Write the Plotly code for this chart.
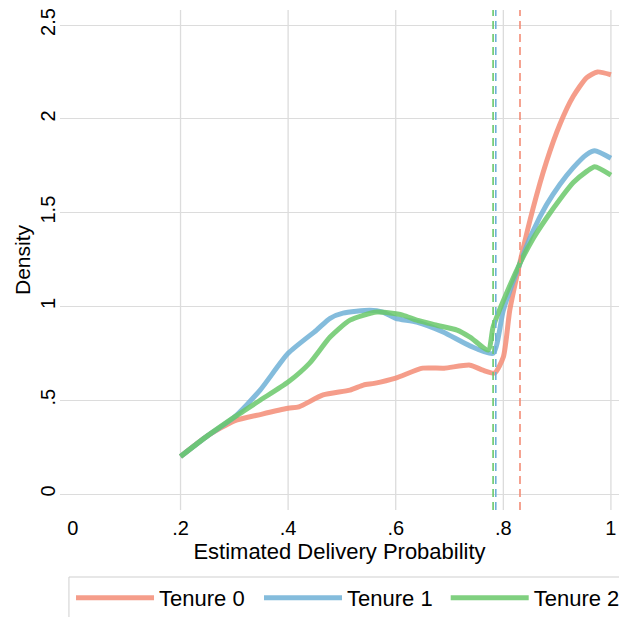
import plotly.graph_objects as go

# ---- data ----
x0 = [0.20, 0.25, 0.30, 0.35, 0.40, 0.42, 0.465, 0.515, 0.54, 0.56, 0.60, 0.65, 0.69, 0.738, 0.762, 0.784,
      0.80, 0.812, 0.825, 0.855, 0.88, 0.905, 0.93, 0.955, 0.975, 1.0]
y0 = [0.20, 0.31, 0.39, 0.425, 0.457, 0.465, 0.528, 0.554, 0.581, 0.59, 0.618, 0.671, 0.671, 0.687, 0.66, 0.645,
      0.73, 0.98, 1.16, 1.52, 1.77, 1.97, 2.12, 2.22, 2.25, 2.235]

x1 = [0.20, 0.25, 0.30, 0.348, 0.40, 0.453, 0.478, 0.502, 0.552, 0.576, 0.60, 0.639, 0.688, 0.738, 0.781,
      0.80, 0.831, 0.855, 0.88, 0.905, 0.93, 0.955, 0.97, 1.0]
y1 = [0.20, 0.31, 0.41, 0.554, 0.75, 0.874, 0.937, 0.964, 0.98, 0.97, 0.937, 0.917, 0.864, 0.79, 0.75,
      0.98, 1.23, 1.40, 1.54, 1.65, 1.74, 1.81, 1.83, 1.79]

x2 = [0.20, 0.25, 0.30, 0.348, 0.40, 0.44, 0.478, 0.515, 0.565, 0.613, 0.639, 0.676, 0.714, 0.738, 0.772,
      0.781, 0.80, 0.831, 0.855, 0.88, 0.905, 0.93, 0.955, 0.97, 1.0]
y2 = [0.20, 0.31, 0.41, 0.50, 0.597, 0.698, 0.837, 0.927, 0.97, 0.954, 0.927, 0.90, 0.874, 0.837, 0.768,
      0.89, 1.03, 1.23, 1.36, 1.47, 1.57, 1.66, 1.72, 1.745, 1.70]

names = ["Tenure 0", "Tenure 1", "Tenure 2"]
colors = ["rgba(243,140,118,0.85)", "rgba(110,176,214,0.85)", "rgba(106,200,106,0.85)"]
means = [0.831, 0.786, 0.781]
mean_colors = ["rgba(243,140,118,1)", "rgba(110,176,214,1)", "rgba(106,200,106,1)"]

x_ticks = [0, 0.2, 0.4, 0.6, 0.8, 1]
x_labels = ["0", ".2", ".4", ".6", ".8", "1"]
y_ticks = [0, 0.5, 1, 1.5, 2, 2.5]
y_labels = ["0", ".5", "1", "1.5", "2", "2.5"]

grid = "#dcdcdc"
font = "Liberation Sans, Arial, Helvetica, sans-serif"

fig = go.Figure()

# vertical grid lines (none at 0 in the reference)
for v in x_ticks[1:]:
    fig.add_shape(type="line", xref="x", yref="paper", x0=v, x1=v, y0=0, y1=1,
                  line=dict(color=grid, width=1.3), layer="below")

# mean lines (dashed)
for m, c in zip(means, mean_colors):
    fig.add_shape(type="line", xref="x", yref="paper", x0=m, x1=m, y0=0, y1=1,
                  line=dict(color=c, width=1.6, dash="8px,5px"), layer="above")

legend_ids = ["legend", "legend2", "legend3"]
for xs, ys, n, c, lg in zip([x0, x1, x2], [y0, y1, y2], names, colors, legend_ids):
    fig.add_trace(go.Scatter(x=xs, y=ys, name=n, mode="lines", legend=lg,
                             line=dict(color=c, width=5, shape="spline", smoothing=0.6)))

# single frame around the three legend entries (runs off the page like the reference)
fig.add_shape(type="rect", xref="paper", yref="paper", x0=0.016, x1=1.1, y0=-0.134, y1=-0.32,
              line=dict(color="#cfcfcf", width=1), fillcolor="rgba(0,0,0,0)", layer="above")

leg_common = dict(orientation="h", xanchor="left", y=-0.134, yanchor="top",
                  borderwidth=0, bgcolor="rgba(0,0,0,0)", font=dict(size=22), itemwidth=78)

fig.update_layout(
    width=619, height=617,
    margin=dict(l=60, r=0, t=10, b=107, autoexpand=False),
    paper_bgcolor="white", plot_bgcolor="white",
    font=dict(family=font, size=20, color="black"),
    showlegend=True,
    legend=dict(x=0.0197, **leg_common),
    legend2=dict(x=0.356, **leg_common),
    legend3=dict(x=0.690, **leg_common),
    xaxis=dict(range=[-0.024, 1.015], tickvals=x_ticks, ticktext=x_labels,
               showgrid=False, zeroline=False, showline=False, ticks="",
               ticklabelstandoff=4,
               title=dict(text="Estimated Delivery Probability", standoff=4, font=dict(size=22))),
    yaxis=dict(range=[-0.085, 2.58], tickvals=y_ticks, ticktext=y_labels, tickangle=-90,
               showgrid=True, gridcolor=grid, gridwidth=1.3, zeroline=False, showline=False,
               ticks="", title=dict(text="Density", standoff=0, font=dict(size=21))),
)

fig.write_html("out.html")
